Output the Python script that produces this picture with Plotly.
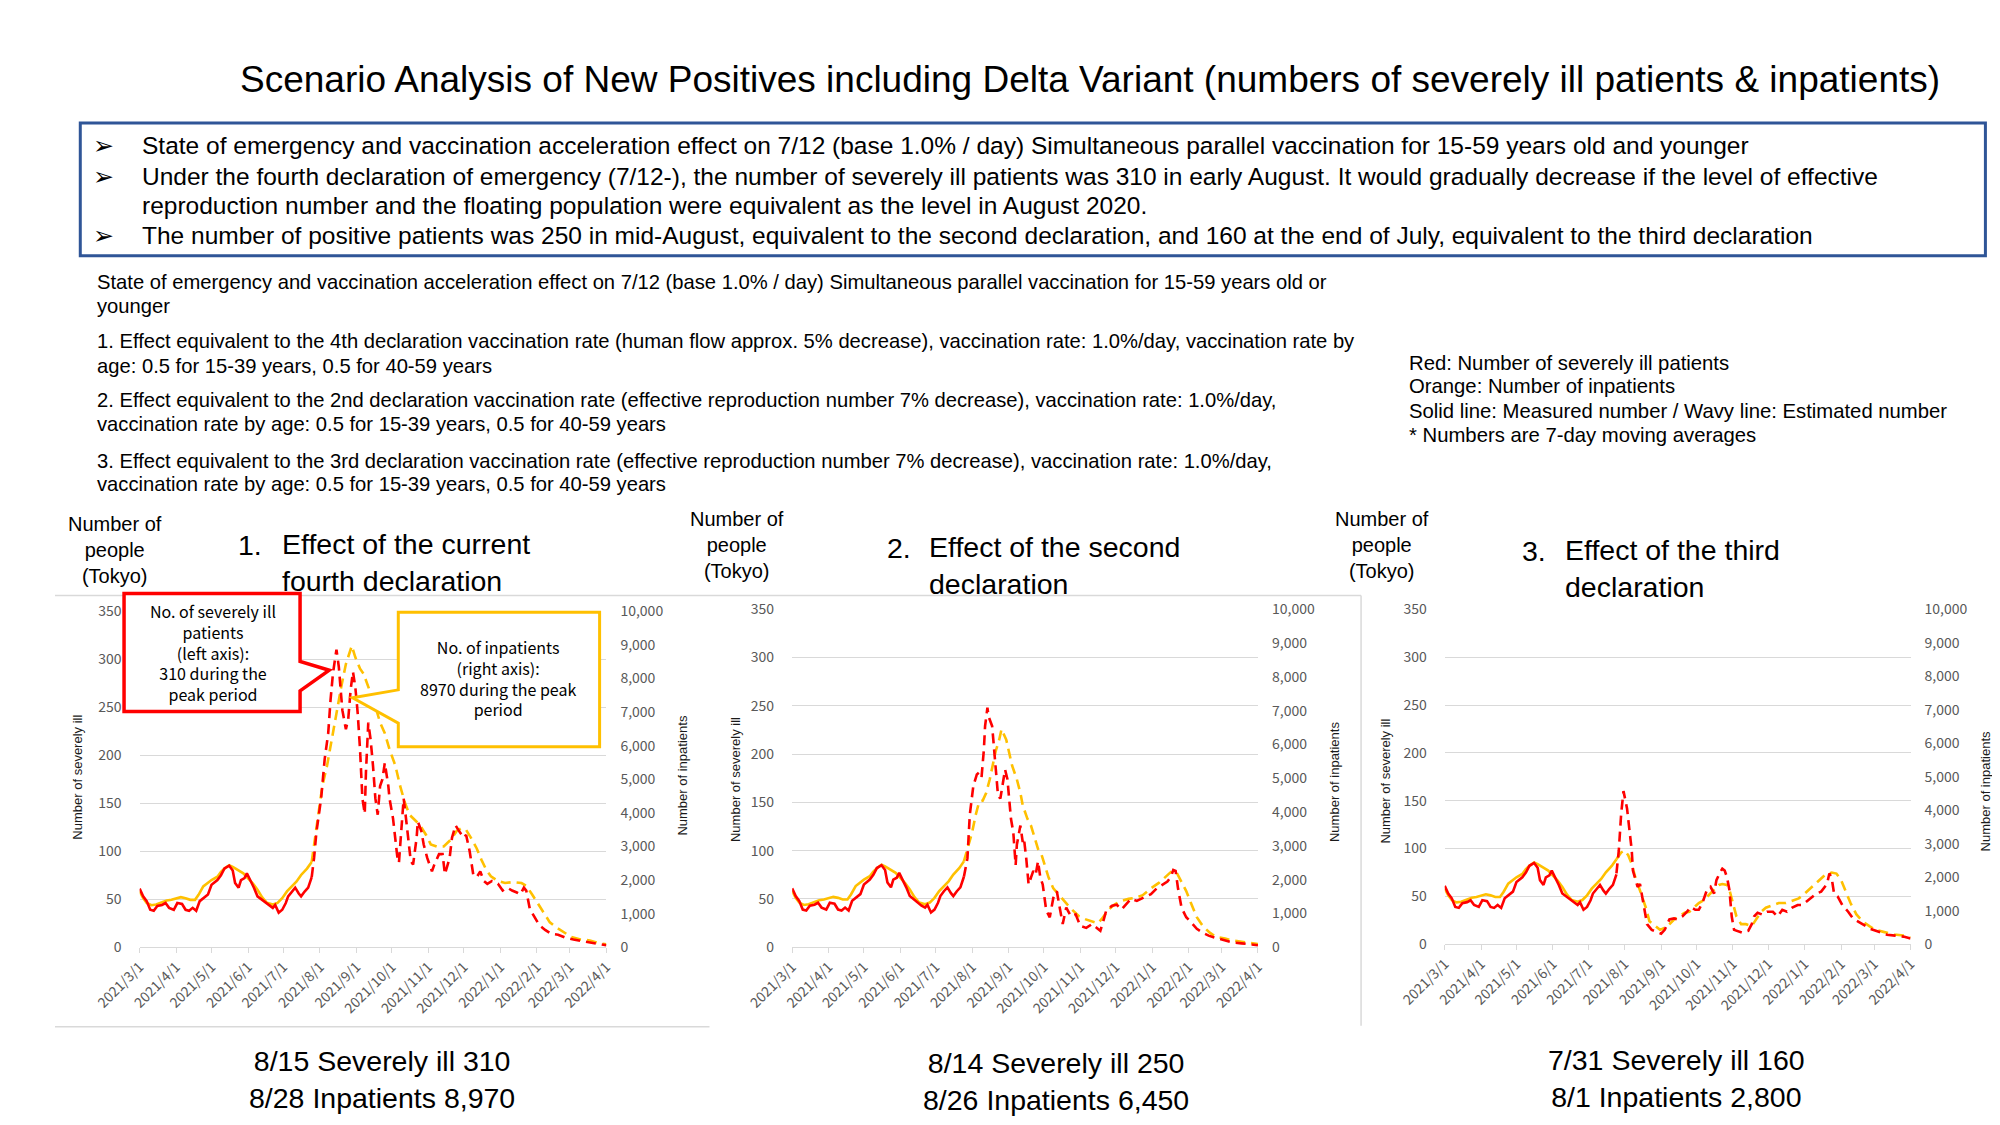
import pandas as pd
import plotly.graph_objects as go

W, H = 2000, 1125
START = pd.Timestamp("2021-03-01")
END = pd.Timestamp("2022-04-01")

# ---------------- data (day offsets from 2021-03-01) ----------------
TICK_DATES = ["2021-03-01", "2021-04-01", "2021-05-01", "2021-06-01", "2021-07-01", "2021-08-01",
              "2021-09-01", "2021-10-01", "2021-11-01", "2021-12-01", "2022-01-01", "2022-02-01",
              "2022-03-01", "2022-04-01"]
TICK_LABELS = ["2021/3/1", "2021/4/1", "2021/5/1", "2021/6/1", "2021/7/1", "2021/8/1", "2021/9/1",
               "2021/10/1", "2021/11/1", "2021/12/1", "2022/1/1", "2022/2/1", "2022/3/1", "2022/4/1"]

# measured (solid), common to all three panels
MEAS_SEVERE_DAY = [0, 3, 6, 9, 12, 15, 19, 22, 25, 29, 32, 36, 39, 42, 45, 48, 51, 54, 58, 61,
                   66, 69, 72, 76, 79, 81, 84, 86, 89, 91, 94, 97, 100, 103, 107, 110, 113, 115, 118, 121,
                   124, 126, 129, 132, 135, 137, 140, 143, 146]
MEAS_SEVERE = [61, 53, 48, 39, 38, 43, 44, 46, 41, 39, 46, 45, 39, 38, 41, 38, 48, 51, 55, 65,
               70, 75, 82, 85, 80, 67, 62, 70, 72, 77, 70, 62, 53, 50, 46, 43, 41, 44, 36, 39,
               46, 53, 58, 62, 56, 53, 58, 62, 73]
MEAS_INPAT_DAY = [0, 3, 6, 10, 14, 19, 23, 27, 31, 35, 39, 43, 47, 50, 54, 58, 61, 66, 69, 72,
                  76, 79, 84, 88, 92, 96, 100, 104, 108, 113, 117, 121, 125, 129, 133, 137, 142, 146]
MEAS_INPAT = [1660, 1460, 1320, 1250, 1270, 1350, 1390, 1410, 1460, 1490, 1460, 1410, 1410, 1560, 1810,
              1930, 2000, 2100, 2240, 2340, 2440, 2390, 2290, 2200, 2050, 1900, 1710, 1480, 1320, 1270,
              1320, 1460, 1660, 1810, 1950, 2150, 2340, 2540]

# scenario 1: current fourth declaration (estimated, dashed)
S1_SEVERE_DAY = [146, 148, 150, 154, 157, 160, 162, 164, 166, 167, 169, 171, 172, 175, 177, 179, 181, 183,
                 185, 187, 189, 191, 192, 194, 196, 198, 200, 202, 204, 206, 208, 211, 212, 215, 217, 219,
                 220, 222, 224, 226, 228, 230, 232, 235, 236, 239, 241, 244, 248, 250, 254, 257, 259, 263,
                 265, 268, 271, 275, 277, 280, 283, 286, 289, 292, 295, 299, 304, 308, 312, 316, 320, 323,
                 326, 328, 331, 335, 339, 344, 349, 355, 361, 368, 378, 388, 396]
S1_SEVERE = [73, 93, 120, 155, 196, 223, 258, 285, 302, 310, 292, 261, 247, 227, 238, 268, 287, 271,
             244, 206, 155, 139, 182, 234, 216, 189, 155, 138, 168, 175, 192, 168, 155, 134, 110, 90,
             88, 121, 155, 134, 114, 90, 86, 114, 131, 121, 107, 93, 79, 86, 97, 97, 76, 93,
             114, 127, 121, 114, 117, 100, 76, 73, 79, 69, 66, 69, 66, 59, 62, 59, 57, 55,
             62, 59, 40, 32, 23, 18, 14, 13, 10, 8, 6, 4, 2]
S1_INPAT_DAY = [146, 149, 155, 159, 163, 167, 171, 175, 178, 180, 183, 187, 190, 192, 195, 200, 204, 208,
                212, 217, 221, 225, 229, 233, 238, 243, 247, 252, 258, 264, 269, 273, 277, 281, 286, 290,
                294, 298, 304, 310, 317, 324, 328, 333, 338, 343, 348, 353, 359, 366, 374, 382, 391, 396]
S1_INPAT = [2540, 3260, 4800, 5400, 6170, 7060, 7740, 8430, 8770, 8970, 8630, 8290, 8140, 7940, 7660,
            7170, 6690, 6370, 5890, 5400, 4800, 4310, 3940, 3800, 3630, 3340, 3060, 3000, 3000, 3200,
            3460, 3540, 3490, 3260, 2940, 2600, 2310, 2110, 1970, 1910, 1940, 1910, 1830, 1570, 1290,
            1000, 740, 600, 460, 310, 230, 200, 110, 90]

# scenario 2: second declaration
S2_SEVERE_DAY = [146, 149, 151, 154, 157, 159, 161, 163, 164, 166, 167, 170, 171, 173, 175, 177, 179, 181,
                 183, 185, 186, 188, 190, 191, 194, 196, 197, 199, 201, 203, 205, 207, 209, 211, 213, 216,
                 219, 222, 225, 227, 230, 233, 237, 241, 245, 250, 255, 259, 262, 265, 267, 272, 276, 280,
                 284, 288, 293, 298, 305, 310, 315, 319, 322, 324, 326, 328, 331, 335, 339, 344, 349, 354,
                 359, 368, 374, 382, 389, 396]
S2_SEVERE = [73, 92, 137, 167, 179, 181, 176, 205, 229, 248, 239, 229, 215, 181, 157, 154, 167, 184,
             174, 147, 133, 119, 85, 106, 126, 109, 113, 92, 65, 72, 79, 75, 89, 72, 65, 38,
             31, 51, 58, 44, 24, 41, 32, 34, 22, 20, 24, 20, 17, 29, 38, 43, 44, 39,
             44, 50, 48, 51, 55, 61, 65, 68, 73, 80, 79, 61, 41, 31, 26, 19, 15, 12,
             10, 7, 5, 4, 3, 2]
S2_INPAT_DAY = [146, 150, 153, 156, 159, 162, 165, 168, 171, 173, 176, 178, 182, 184, 187, 191, 194, 196,
                200, 203, 206, 209, 212, 215, 218, 222, 226, 230, 234, 238, 244, 249, 254, 260, 263, 269,
                274, 280, 286, 292, 298, 305, 312, 319, 323, 327, 331, 335, 339, 344, 349, 355, 360, 368,
                374, 384, 396]
S2_INPAT = [2540, 3030, 3400, 3910, 4310, 4340, 4570, 4970, 5460, 5800, 6140, 6450, 6140, 5860, 5370,
            4970, 4570, 4200, 3800, 3600, 3260, 2910, 2740, 2430, 2060, 1740, 1570, 1430, 1260, 1110,
            910, 830, 770, 710, 830, 1110, 1260, 1370, 1430, 1460, 1540, 1740, 1910, 2140, 2260,
            2200, 1940, 1660, 1310, 890, 630, 430, 310, 260, 200, 140, 90]

# scenario 3: third declaration
S3_SEVERE_DAY = [146, 148, 150, 152, 155, 157, 159, 160, 162, 164, 166, 168, 170, 172, 176, 180, 184, 187,
                 191, 195, 198, 202, 206, 209, 213, 216, 219, 223, 226, 229, 231, 234, 236, 238, 240, 242,
                 244, 246, 249, 253, 258, 261, 263, 266, 270, 274, 279, 283, 287, 291, 295, 300, 304, 308,
                 312, 316, 320, 325, 327, 329, 331, 334, 338, 343, 347, 351, 357, 362, 369, 376, 383, 390, 396]
S3_SEVERE = [74, 98, 136, 160, 142, 122, 98, 77, 67, 60, 63, 50, 33, 21, 15, 13, 11, 15,
             26, 27, 26, 29, 34, 39, 36, 36, 43, 57, 60, 53, 67, 75, 79, 77, 70, 57,
             29, 15, 14, 12, 14, 21, 29, 33, 31, 34, 34, 29, 36, 34, 38, 41, 41, 45,
             48, 53, 55, 63, 74, 69, 53, 50, 41, 34, 27, 24, 19, 16, 13, 10, 9, 8, 6]
S3_INPAT_DAY = [146, 150, 153, 156, 159, 162, 165, 168, 171, 174, 179, 183, 187, 191, 195, 199, 204, 208,
                212, 216, 220, 224, 229, 233, 236, 240, 242, 245, 248, 252, 256, 261, 265, 269, 273, 279,
                284, 290, 295, 301, 306, 312, 318, 323, 329, 333, 337, 341, 345, 350, 355, 361, 366, 373,
                382, 390, 396]
S3_INPAT = [2540, 2740, 2800, 2660, 2400, 2000, 1710, 1430, 1090, 690, 540, 430, 490, 600, 740,
            830, 940, 970, 1110, 1230, 1310, 1460, 1630, 1770, 1800, 1770, 1630, 1230, 830, 600,
            600, 540, 770, 970, 1090, 1170, 1230, 1230, 1290, 1370, 1510, 1710, 1910, 2060, 2140,
            2110, 1910, 1570, 1230, 890, 690, 540, 430, 370, 290, 260, 200]

PANEL_TITLES = ["Effect of the current<br>fourth declaration",
                "Effect of the second<br>declaration",
                "Effect of the third<br>declaration"]
PANEL_NUMBERS = ["1.", "2.", "3."]
PANEL_NOTES = ["8/15 Severely ill 310<br>8/28 Inpatients 8,970",
               "8/14 Severely ill 250<br>8/26 Inpatients 6,450",
               "7/31 Severely ill 160<br>8/1 Inpatients 2,800"]

RED = "#FF0000"
ORANGE = "#FFC000"
GRID = "#D9D9D9"
TICKC = "#595959"
MAIN_FONT = "Liberation Sans, Arial, sans-serif"
CHART_FONT = "Noto Sans CJK JP, Liberation Sans, sans-serif"


def dates(days):
    return [START + pd.Timedelta(days=int(v)) for v in days]


def px(x):
    return x / W


def py(y):
    return 1 - y / H


# panel geometry (pixels)
PANELS = [
    dict(x0=87, x1=567, y0=603, y1=945, sev=(S1_SEVERE_DAY, S1_SEVERE), inp=(S1_INPAT_DAY, S1_INPAT),
         people_x=62, people_y=541, num_x=186, title_x=231, title_y=553, ltitle_x=23, rtitle_x=645,
         ltitle_y=772, rtitle_y=770, note_x=336, note_y=1080),
    dict(x0=758, x1=1237, y0=601, y1=945, sev=(S2_SEVERE_DAY, S2_SEVERE), inp=(S2_INPAT_DAY, S2_INPAT),
         people_x=701, people_y=536, num_x=853, title_x=897, title_y=556, ltitle_x=699, rtitle_x=1315,
         ltitle_y=774, rtitle_y=777, note_x=1029, note_y=1082),
    dict(x0=1429, x1=1908, y0=601, y1=942, sev=(S3_SEVERE_DAY, S3_SEVERE), inp=(S3_INPAT_DAY, S3_INPAT),
         people_x=1365, people_y=536, num_x=1506, title_x=1551, title_y=559, ltitle_x=1368, rtitle_x=1985,
         ltitle_y=776, rtitle_y=786, note_x=1667, note_y=1079),
]

fig = go.Figure()
layout = {}
annotations = []
shapes = []

for i, p in enumerate(PANELS):
    k = i + 1
    xname = "x" if k == 1 else f"x{k}"
    lname = "y" if k == 1 else f"y{2 * k - 1}"   # left axis (severely ill)
    rname = f"y{2 * k}"                          # right axis (inpatients)
    xkey = "xaxis" if k == 1 else f"xaxis{k}"
    lkey = "yaxis" if k == 1 else f"yaxis{2 * k - 1}"
    rkey = f"yaxis{2 * k}"
    dom_x = [px(p["x0"]), px(p["x1"])]
    dom_y = [py(p["y1"]), py(p["y0"])]

    layout[xkey] = dict(domain=dom_x, anchor=rname, type="date", range=[START, END],
                        tickmode="array", tickvals=TICK_DATES, ticktext=TICK_LABELS, tickangle=-45,
                        tickfont=dict(family=CHART_FONT, size=14, color=TICKC),
                        showgrid=False, zeroline=False, showline=True, linecolor=GRID, linewidth=1,
                        ticks="outside", ticklen=5, tickcolor=GRID, fixedrange=True)
    layout[rkey] = dict(domain=dom_y, anchor=xname, side="right", range=[0, 10000], dtick=1000,
                        tickformat=",", showgrid=False, zeroline=False, showline=False,
                        tickfont=dict(family=CHART_FONT, size=14, color=TICKC),
                        ticklabelstandoff=13, fixedrange=True)
    layout[lkey] = dict(overlaying=rname, anchor=xname, side="left", range=[0, 350], dtick=50,
                        showgrid=True, gridcolor=GRID, gridwidth=1, zeroline=False, showline=False,
                        tickfont=dict(family=CHART_FONT, size=14, color=TICKC),
                        ticklabelstandoff=17, fixedrange=True)

    # inpatients (right axis)
    fig.add_trace(go.Scatter(x=dates(MEAS_INPAT_DAY), y=MEAS_INPAT, xaxis=xname, yaxis=rname, mode="lines",
                             line=dict(color=ORANGE, width=2.6), showlegend=False, hoverinfo="skip"))
    fig.add_trace(go.Scatter(x=dates(p["inp"][0]), y=p["inp"][1], xaxis=xname, yaxis=rname, mode="lines",
                             line=dict(color=ORANGE, width=2.6, dash="10px,6px"), showlegend=False,
                             hoverinfo="skip"))
    # severely ill (left axis)
    fig.add_trace(go.Scatter(x=dates(MEAS_SEVERE_DAY), y=MEAS_SEVERE, xaxis=xname, yaxis=lname, mode="lines",
                             line=dict(color=RED, width=2.6), showlegend=False, hoverinfo="skip"))
    fig.add_trace(go.Scatter(x=dates(p["sev"][0]), y=p["sev"][1], xaxis=xname, yaxis=lname, mode="lines",
                             line=dict(color=RED, width=2.6, dash="10px,6px"), showlegend=False,
                             hoverinfo="skip"))

    # headers
    annotations.append(dict(x=px(p["people_x"]), y=py(p["people_y"]), xref="paper", yref="paper",
                            text="Number of<br>people<br>(Tokyo)", showarrow=False, align="center",
                            xanchor="center", yanchor="middle",
                            font=dict(family=MAIN_FONT, size=20, color="#000000")))
    annotations.append(dict(x=px(p["num_x"]), y=py(p["title_y"] - 17), xref="paper", yref="paper",
                            text=PANEL_NUMBERS[i], showarrow=False, xanchor="left", yanchor="middle",
                            font=dict(family=MAIN_FONT, size=28.5, color="#000000")))
    annotations.append(dict(x=px(p["title_x"]), y=py(p["title_y"]), xref="paper", yref="paper",
                            text=PANEL_TITLES[i], showarrow=False, align="left", xanchor="left",
                            yanchor="middle", font=dict(family=MAIN_FONT, size=28.5, color="#000000")))
    # axis titles
    annotations.append(dict(x=px(p["ltitle_x"]), y=py(p["ltitle_y"]), xref="paper", yref="paper",
                            text="Number of severely ill", textangle=-90, showarrow=False,
                            xanchor="center", yanchor="middle",
                            font=dict(family=MAIN_FONT, size=13, color="#1a1a1a")))
    annotations.append(dict(x=px(p["rtitle_x"]), y=py(p["rtitle_y"]), xref="paper", yref="paper",
                            text="Number of inpatients", textangle=-90, showarrow=False,
                            xanchor="center", yanchor="middle",
                            font=dict(family=MAIN_FONT, size=13, color="#1a1a1a")))
    # bottom note
    annotations.append(dict(x=px(p["note_x"]), y=py(p["note_y"]), xref="paper", yref="paper",
                            text=PANEL_NOTES[i], showarrow=False, align="center", xanchor="center",
                            yanchor="middle", font=dict(family=MAIN_FONT, size=28.5, color="#000000")))

# ---------------- page texts ----------------
annotations.append(dict(x=px(1064), y=py(62), xref="paper", yref="paper",
                        text="Scenario Analysis of New Positives including Delta Variant (numbers of severely ill patients & inpatients)",
                        showarrow=False, xanchor="center", yanchor="middle",
                        font=dict(family=MAIN_FONT, size=37, color="#000000")))

BOX_LINES = [
    (129, True, "State of emergency and vaccination acceleration effect on 7/12 (base 1.0% / day) Simultaneous parallel vaccination for 15-59 years old and younger"),
    (160, True, "Under the fourth declaration of emergency (7/12-), the number of severely ill patients was 310 in early August. It would gradually decrease if the level of effective"),
    (190, False, "reproduction number and the floating population were equivalent as the level in August 2020."),
    (220, True, "The number of positive patients was 250 in mid-August, equivalent to the second declaration, and 160 at the end of July, equivalent to the third declaration"),
]
for yy, bullet, txt in BOX_LINES:
    if bullet:
        annotations.append(dict(x=px(50), y=py(yy), xref="paper", yref="paper", text="➢", showarrow=False,
                                xanchor="center", yanchor="middle",
                                font=dict(family="DejaVu Sans", size=25, color="#000000")))
    annotations.append(dict(x=px(87), y=py(yy), xref="paper", yref="paper", text=txt, showarrow=False,
                            xanchor="left", yanchor="middle",
                            font=dict(family=MAIN_FONT, size=24.5, color="#000000")))

DESC_LINES = [
    (268, "State of emergency and vaccination acceleration effect on 7/12 (base 1.0% / day) Simultaneous parallel vaccination for 15-59 years old or"),
    (292, "younger"),
    (328, "1. Effect equivalent to the 4th declaration vaccination rate (human flow approx. 5% decrease), vaccination rate: 1.0%/day, vaccination rate by"),
    (353, "age: 0.5 for 15-39 years, 0.5 for 40-59 years"),
    (388, "2. Effect equivalent to the 2nd declaration vaccination rate (effective reproduction number 7% decrease), vaccination rate: 1.0%/day,"),
    (412, "vaccination rate by age: 0.5 for 15-39 years, 0.5 for 40-59 years"),
    (450, "3. Effect equivalent to the 3rd declaration vaccination rate (effective reproduction number 7% decrease), vaccination rate: 1.0%/day,"),
    (473, "vaccination rate by age: 0.5 for 15-39 years, 0.5 for 40-59 years"),
]
for yy, txt in DESC_LINES:
    annotations.append(dict(x=px(41), y=py(yy), xref="paper", yref="paper", text=txt, showarrow=False,
                            xanchor="left", yanchor="middle",
                            font=dict(family=MAIN_FONT, size=20.2, color="#000000")))

LEGEND_LINES = [
    (350, "Red: Number of severely ill patients"),
    (374, "Orange: Number of inpatients"),
    (399, "Solid line: Measured number / Wavy line: Estimated number"),
    (424, "* Numbers are 7-day moving averages"),
]
for yy, txt in LEGEND_LINES:
    annotations.append(dict(x=px(1390), y=py(yy), xref="paper", yref="paper", text=txt, showarrow=False,
                            xanchor="left", yanchor="middle",
                            font=dict(family=MAIN_FONT, size=20.3, color="#000000")))

# summary box
shapes.append(dict(type="rect", xref="paper", yref="paper", x0=px(26), x1=px(1985), y0=py(241), y1=py(106),
                   line=dict(color="#2F5597", width=3), fillcolor="rgba(0,0,0,0)", layer="below"))

# panel separators
shapes.append(dict(type="line", xref="paper", yref="paper", x0=px(0), x1=px(1343), y0=py(587), y1=py(587),
                   line=dict(color=GRID, width=1.5)))
shapes.append(dict(type="line", xref="paper", yref="paper", x0=px(1343), x1=px(1343), y0=py(587), y1=py(1025),
                   line=dict(color=GRID, width=1.5)))
shapes.append(dict(type="line", xref="paper", yref="paper", x0=px(0), x1=px(673), y0=py(1026), y1=py(1026),
                   line=dict(color=GRID, width=1.5)))


def poly(points):
    s = "M " + " L ".join(f"{px(a):.5f},{py(b):.5f}" for a, b in points) + " Z"
    return s


# red callout (box with pointer to the right)
red_pts = [(71, 585), (252, 585), (252, 654), (282, 663), (252, 684), (252, 705), (71, 705)]
shapes.append(dict(type="path", xref="paper", yref="paper", path=poly(red_pts),
                   line=dict(color=RED, width=3.5), fillcolor="#FFFFFF", layer="above"))
annotations.append(dict(x=px(162), y=py(645), xref="paper", yref="paper",
                        text="No. of severely ill<br>patients<br>(left axis):<br>310 during the<br>peak period",
                        showarrow=False, align="center", xanchor="center", yanchor="middle",
                        font=dict(family=CHART_FONT, size=16, color="#000000")))
# yellow callout (box with pointer to the left)
yel_pts = [(353, 604), (560, 604), (560, 741), (353, 741), (353, 717), (306, 691), (353, 683)]
shapes.append(dict(type="path", xref="paper", yref="paper", path=poly(yel_pts),
                   line=dict(color=ORANGE, width=3), fillcolor="#FFFFFF", layer="above"))
annotations.append(dict(x=px(456), y=py(671), xref="paper", yref="paper",
                        text="No. of inpatients<br>(right axis):<br>8970 during the peak<br>period",
                        showarrow=False, align="center", xanchor="center", yanchor="middle",
                        font=dict(family=CHART_FONT, size=16, color="#000000")))

layout.update(dict(width=W, height=H, margin=dict(l=0, r=0, t=0, b=0), paper_bgcolor="#FFFFFF",
                   plot_bgcolor="rgba(0,0,0,0)", showlegend=False, annotations=annotations, shapes=shapes))
fig.update_layout(**layout)
fig.write_html("out.html")
